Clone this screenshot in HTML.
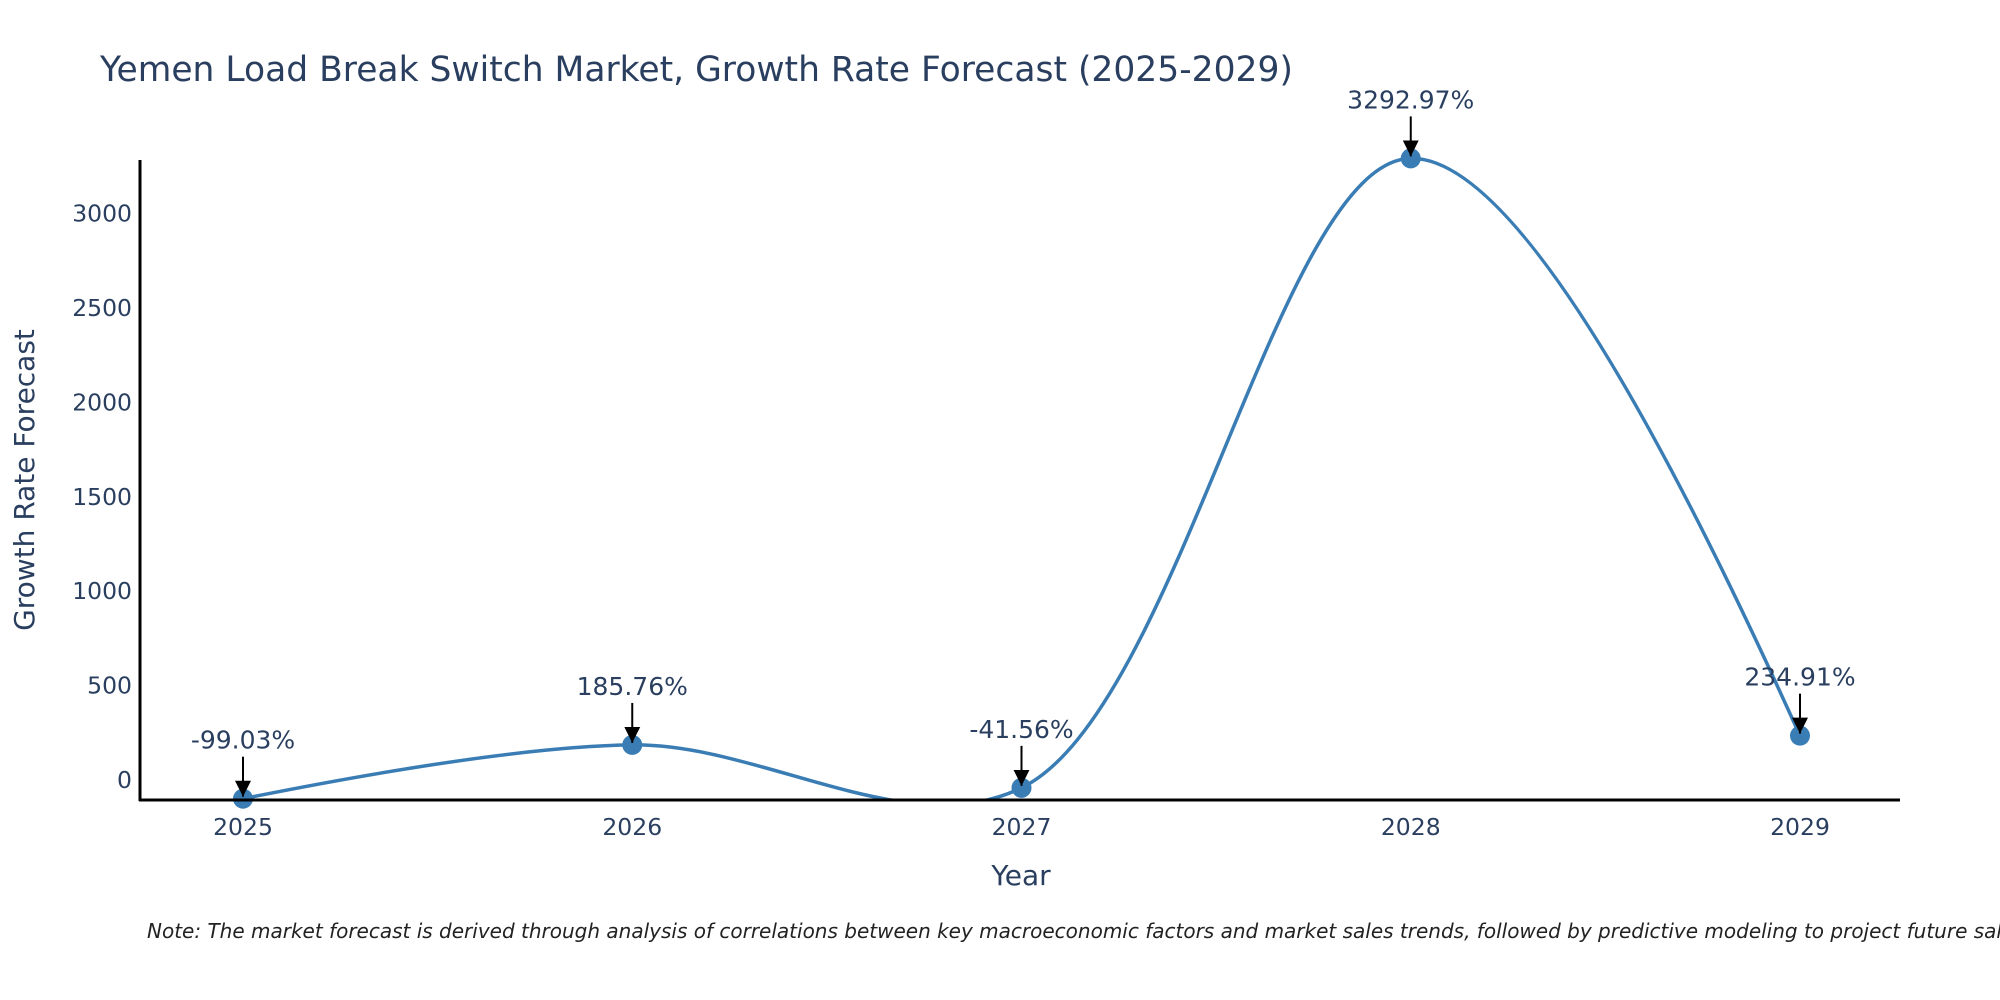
<!DOCTYPE html>
<html><head><meta charset="utf-8"><style>
body{margin:0;background:#fff}
svg{display:block;font-family:"DejaVu Sans","Liberation Sans",sans-serif}
</style></head><body>
<svg id="c" width="2000" height="1000" viewBox="0 0 2000 1000">
<rect width="2000" height="1000" fill="#fff"/>
<text x="100" y="81" font-size="34.5" fill="#2a3f5f">Yemen Load Break Switch Market, Growth Rate Forecast (2025-2029)</text>
<defs><clipPath id="pc"><rect x="140" y="150" width="1760" height="650"/></clipPath>
<marker id="ah" markerWidth="16" markerHeight="16" refX="16" refY="8" orient="auto" markerUnits="userSpaceOnUse" viewBox="0 0 16 16"><path d="M0,0 L16,8 L0,16 Z" fill="#000"/></marker></defs>
<g id="yt"></g>
<g id="xt"></g>
<path id="line" fill="none" stroke="#3a7db5" stroke-width="3.5" clip-path="url(#pc)"/>
<g id="pts"></g>
<g id="ann"></g>
<line x1="140" y1="160" x2="140" y2="801" stroke="#000" stroke-width="3"/>
<line x1="139" y1="800" x2="1900" y2="800" stroke="#000" stroke-width="3"/>
<text x="1021" y="885" font-size="28" fill="#2a3f5f" text-anchor="middle">Year</text>
<text transform="translate(34,480) rotate(-90)" font-size="28" fill="#2a3f5f" text-anchor="middle">Growth Rate Forecast</text>
<text x="147" y="938" font-size="20" font-style="italic" fill="#222">Note: The market forecast is derived through analysis of correlations between key macroeconomic factors and market sales trends, followed by predictive modeling to project future sales.</text>
</svg>
<script>
const years=["2025","2026","2027","2028","2029"];
const values=[-99.03,185.76,-41.56,3292.97,234.91];
const labels=["-99.03%","185.76%","-41.56%","3292.97%","234.91%"];
const yTicks=[0,500,1000,1500,2000,2500,3000];
const NS="http://www.w3.org/2000/svg";
const xS=i=>243+i*389.25;
const yS=v=>780-v*0.18877;
function mk(t,a,p){const e=document.createElementNS(NS,t);for(const k in a)e.setAttribute(k,a[k]);p.appendChild(e);return e;}
const yt=document.getElementById('yt');
yTicks.forEach(v=>{const t=mk('text',{x:132,y:yS(v)+8,'font-size':23.5,fill:'#2a3f5f','text-anchor':'end'},yt);t.textContent=v;

});
const xt=document.getElementById('xt');
years.forEach((y,i)=>{const t=mk('text',{x:xS(i),y:835,'font-size':23.5,fill:'#2a3f5f','text-anchor':'middle'},xt);t.textContent=y;

});
const P=values.map((v,i)=>[xS(i),yS(v)]);
function ctrl(p0,p1,p2){const dx1=p0[0]-p1[0],dy1=p0[1]-p1[1],dx2=p2[0]-p1[0],dy2=p2[1]-p1[1];
const d1=Math.hypot(dx1,dy1),d2=Math.hypot(dx2,dy2),s1=Math.sqrt(d1),s2=Math.sqrt(d2);
const nx=s2*s2*dx1-s1*s1*dx2,ny=s2*s2*dy1-s1*s1*dy2,a=3*s2*(s1+s2),b=3*s1*(s1+s2);
return [[p1[0]+nx/a,p1[1]+ny/a],[p1[0]-nx/b,p1[1]-ny/b]];}
const C=[];for(let i=1;i<P.length-1;i++)C.push(ctrl(P[i-1],P[i],P[i+1]));
let d=`M${P[0]} Q${C[0][0]} ${P[1]}`;
for(let i=2;i<P.length-1;i++)d+=` C${C[i-2][1]} ${C[i-1][0]} ${P[i]}`;
d+=` Q${C[C.length-1][1]} ${P[P.length-1]}`;
document.getElementById('line').setAttribute('d',d);
const pts=document.getElementById('pts'),ann=document.getElementById('ann');
P.forEach((p,i)=>{const c=mk('circle',{cx:p[0],cy:p[1],r:10,fill:'#3a7db5'},pts);


const l=mk('line',{x1:p[0],y1:p[1]-42,x2:p[0],y2:p[1]-2,stroke:'#000','stroke-width':2,'marker-end':'url(#ah)'},ann);


const t=mk('text',{x:p[0],y:p[1]-50,'font-size':25,fill:'#2a3f5f','text-anchor':'middle'},ann);t.textContent=labels[i];

});
</script>
</body></html>
